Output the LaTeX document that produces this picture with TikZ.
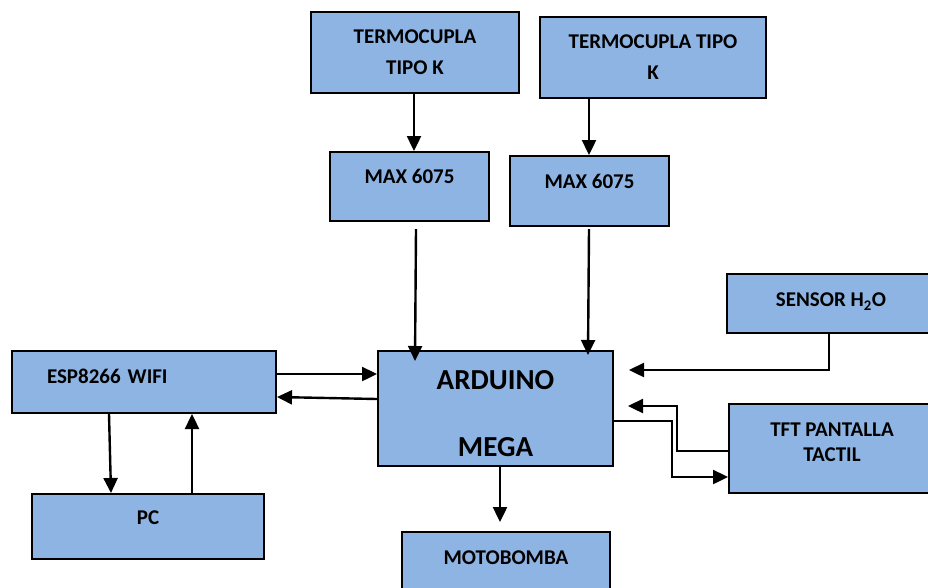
\documentclass[tikz,border=0pt]{standalone}
\usepackage{fontspec}
\setmainfont{Carlito}[BoldFont={Carlito Bold}]
\usetikzlibrary{arrows.meta}
\definecolor{boxblue}{RGB}{142,180,227}
\tikzset{
	blk/.style={draw=black, line width=2pt, fill=boxblue, align=center, inner sep=2pt, font=\bfseries\fontsize{21}{31}\selectfont},
	liftby/.style={text depth=#1},
	arr/.style={line width=2.4pt, -{Triangle[width=14pt,length=15pt]}}
}

\begin{document}
\begin{tikzpicture}[x=1pt, y=-1pt]
			%%%%% START %%%%%
			\useasboundingbox (0, 0) rectangle (928, 587);
			
			\node[blk, minimum width=208pt, minimum height=81pt] (termoA) at (415, 52.5) {TERMOCUPLA\\TIPO K};
			\node[blk, minimum width=226pt, minimum height=81pt] (termoB) at (653, 57.5) {TERMOCUPLA TIPO\\K};
			\node[blk, minimum width=159pt, minimum height=69pt, liftby=21pt] (maxA) at (409.5, 186.5) {MAX 6075};
			\node[blk, minimum width=159pt, minimum height=70pt, liftby=20pt] (maxB) at (589.5, 191) {MAX 6075};
			
			\node[blk, minimum width=235pt, minimum height=115pt, text height=96pt, font=\bfseries\fontsize{29}{67}\selectfont] (ard) at (495.5, 408.5) {ARDUINO\\MEGA};
			\node[blk, minimum width=208pt, minimum height=68pt, liftby=16pt] (bomba) at (506, 566) {MOTOBOMBA};
			
			\node[blk, minimum width=264pt, minimum height=62pt, liftby=12pt, text width=194pt, align=left] (esp) at (144, 382) {ESP8266 WIFI};
			\node[blk, minimum width=232pt, minimum height=65pt, liftby=17pt] (pc) at (148, 526.5) {PC};
			
			\node[blk, minimum width=208pt, minimum height=59pt, liftby=7pt] (sensor) at (831, 303.5) {SENSOR H\textsubscript{2}O};
			\node[blk, minimum width=206pt, minimum height=89pt, liftby=12pt] (tft) at (832, 448.5) {TFT PANTALLA\\[-6pt]TACTIL};
			
			% sensores de temperatura
			\draw[arr] ([shift={(-1,0)}]termoA.south) -- ([shift={(4.5,0)}]maxA.north);
			\draw[arr] ([shift={(-64,0)}]termoB.south) -- ([shift={(-0.5,0)}]maxB.north);
			\draw[arr] ([shift={(6.5,7)}]maxA.south) -- ([shift={(38,11)}]ard.north west);
			\draw[arr] ([shift={(-0.5,2)}]maxB.south) -- ([shift={(211,5)}]ard.north west);
			
			% salida a la bomba
			\draw[arr] ([shift={(4.5,0)}]ard.south) -- ([shift={(-6,-9)}]bomba.north);
			
			% comunicacion wifi
			\draw[arr] ([shift={(0,24)}]esp.north east) -- ([shift={(0,24)}]ard.north west);
			\draw[arr] ([shift={(0,49)}]ard.north west) -- ([shift={(0,47)}]esp.north east);
			\draw[arr] ([shift={(98,0)}]esp.south west) -- ([shift={(80,0)}]pc.north west);
			\draw[arr] ([shift={(161,0)}]pc.north west) -- ([shift={(181,0)}]esp.south west);
			
			% sensor y pantalla
			\draw[arr] ([shift={(103,0)}]sensor.south west) |- ([shift={(15,20)}]ard.north east);
			\draw[arr] ([shift={(0,48)}]tft.north west) -- ++(-51, 0) |- ([shift={(14,56)}]ard.north east);
			\draw[arr] ([shift={(0,71)}]ard.north east) -- ++(58, 0) |- ([shift={(0,74)}]tft.north west);
			
			%%%%% END %%%%%
\end{tikzpicture}
\end{document}
